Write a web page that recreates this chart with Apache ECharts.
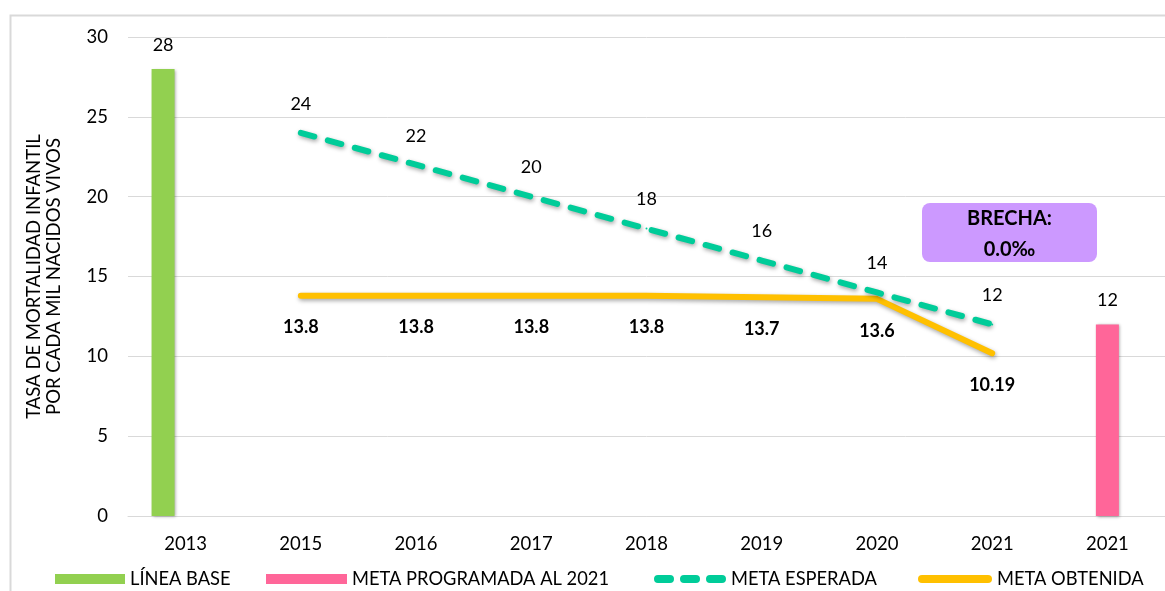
<!DOCTYPE html>
<html>
<head>
<meta charset="utf-8">
<script src="https://cdn.jsdelivr.net/npm/echarts@6/dist/echarts.min.js"></script>
<style>
html,body{margin:0;padding:0;background:#fff;}
#chart{width:1165px;height:591px;}
</style>
</head>
<body>
<div id="chart"></div>
<script>
var categories = ['2013', '2015', '2016', '2017', '2018', '2019', '2020', '2021', '2021'];
var lineaBase = [28, '-', '-', '-', '-', '-', '-', '-', '-'];
var metaProgramada = ['-', '-', '-', '-', '-', '-', '-', '-', 12];
var metaEsperada = ['-', 24, 22, 20, 18, 16, 14, 12, '-'];
var metaObtenida = ['-', 13.8, 13.8, 13.8, 13.8, 13.7, 13.6, 10.19, '-'];
var yTicks = [0, 5, 10, 15, 20, 25, 30];
var yAxisName = 'TASA DE MORTALIDAD INFANTIL\nPOR CADA MIL NACIDOS VIVOS';
var brechaText = 'BRECHA:\n0.0‰';

var FONT = 'Lato, "Open Sans", sans-serif';
var chart = echarts.init(document.getElementById('chart'), null, {renderer: 'canvas'});

var barShadow = {shadowBlur: 3, shadowColor: 'rgba(0,0,0,0.35)', shadowOffsetX: 1, shadowOffsetY: 1};
var lineShadow = {shadowBlur: 4, shadowColor: 'rgba(0,0,0,0.35)', shadowOffsetX: 1, shadowOffsetY: 2};

var dashIcon = 'path://M4,0H16A4,4 0 0 1 16,8H4A4,4 0 0 1 4,0Z' +
  'M30,0H42A4,4 0 0 1 42,8H30A4,4 0 0 1 30,0Z' +
  'M56,0H68A4,4 0 0 1 68,8H56A4,4 0 0 1 56,0Z';
var lineIcon = 'path://M4,0H70A4,4 0 0 1 70,8H4A4,4 0 0 1 4,0Z';

function legendItem(name, left, icon, w, h) {
  return {
    data: [{name: name, icon: icon}],
    left: left, top: 570, padding: 0,
    itemWidth: w, itemHeight: h, itemGap: 5,
    textStyle: {fontFamily: FONT, fontSize: 18.3, color: '#000'},
    selectedMode: false
  };
}

var option = {
  animation: false,
  backgroundColor: '#fff',
  grid: {left: 128, right: -5, top: 37, bottom: 75, containLabel: false},
  legend: [
    legendItem('LÍNEA BASE', 55, 'rect', 70, 10),
    legendItem('META PROGRAMADA AL 2021', 266, 'rect', 81, 10),
    legendItem('META ESPERADA', 654, dashIcon, 72, 8),
    legendItem('META OBTENIDA', 918, lineIcon, 74, 8)
  ],
  xAxis: [{
    type: 'category', data: categories,
    axisTick: {show: false},
    axisLine: {show: true, lineStyle: {color: '#d9d9d9', width: 1}},
    axisLabel: {fontFamily: FONT, fontSize: 18.5, color: '#000', margin: 19, interval: 0}
  }, {
    type: 'category', data: categories, show: false
  }],
  yAxis: {
    type: 'value', min: yTicks[0], max: yTicks[yTicks.length - 1], interval: yTicks[1] - yTicks[0],
    name: yAxisName, nameLocation: 'middle', nameGap: 64, nameRotate: 90,
    nameTextStyle: {fontFamily: FONT, fontSize: 18.5, color: '#000', lineHeight: 20},
    axisLine: {show: false}, axisTick: {show: false},
    axisLabel: {fontFamily: FONT, fontSize: 18.5, color: '#000', margin: 20},
    splitLine: {lineStyle: {color: '#d9d9d9', width: 1}}
  },
  series: [
    {
      name: 'LÍNEA BASE', type: 'bar', xAxisIndex: 1, data: lineaBase,
      barWidth: 23, barGap: '96%',
      itemStyle: Object.assign({color: '#92d050'}, barShadow),
      label: {show: true, position: 'top', distance: 15, fontFamily: FONT, fontSize: 18, color: '#000'}
    },
    {
      name: '_slot', type: 'bar', xAxisIndex: 1, data: ['-', '-', '-', '-', '-', '-', '-', '-', '-'],
      barWidth: 23, itemStyle: {color: 'transparent'}
    },
    {
      name: 'META PROGRAMADA AL 2021', type: 'bar', xAxisIndex: 0, data: metaProgramada,
      barWidth: 23,
      itemStyle: Object.assign({color: '#ff6699'}, barShadow),
      label: {show: true, position: 'top', distance: 15, fontFamily: FONT, fontSize: 18, color: '#000'}
    },
    {
      name: 'META ESPERADA', type: 'line', data: metaEsperada,
      symbol: 'circle', symbolSize: 2, showSymbol: true,
      itemStyle: {color: '#00cc99'},
      lineStyle: Object.assign({color: '#00cc99', width: 6, type: [14, 14], cap: 'round'}, lineShadow),
      label: {show: true, position: 'top', distance: 19, fontFamily: FONT, fontSize: 18, color: '#000'},
      z: 3
    },
    {
      name: 'META OBTENIDA', type: 'line', data: metaObtenida,
      symbol: 'circle', symbolSize: 2, showSymbol: true,
      itemStyle: {color: '#ffc000'},
      lineStyle: Object.assign({color: '#ffc000', width: 6, cap: 'round', join: 'round'}, lineShadow),
      label: {show: true, position: 'bottom', distance: 22, fontFamily: FONT, fontSize: 18, fontWeight: 'bold', color: '#000'},
      z: 2
    }
  ],
  graphic: [
    {
      type: 'rect', left: 8, top: 13, silent: true, z: -10,
      shape: {width: 1200, height: 700},
      style: {fill: 'none', stroke: '#d9d9d9', lineWidth: 2}
    },
    {
      type: 'group', left: 922, top: 203,
      children: [
        {type: 'rect', shape: {x: 0, y: 0, width: 175, height: 59, r: 8}, style: {fill: '#cc99ff'}},
        {type: 'text', x: 87.5, y: 31, style: {text: brechaText, fontFamily: FONT, fontSize: 20, fontWeight: 'bold', fill: '#000', align: 'center', verticalAlign: 'middle', lineHeight: 31}}
      ]
    }
  ]
};
chart.setOption(option);
</script>
</body>
</html>
